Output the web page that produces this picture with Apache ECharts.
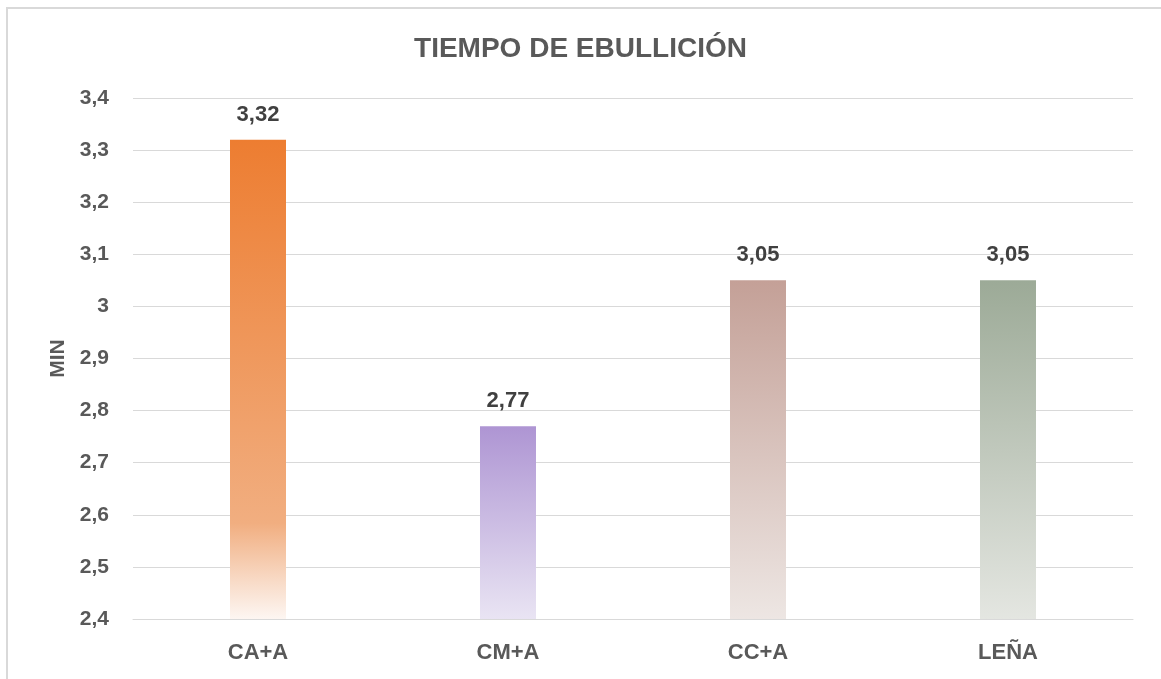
<!DOCTYPE html>
<html>
<head>
<meta charset="utf-8">
<title>Tiempo de ebullición</title>
<script src="https://cdn.jsdelivr.net/npm/echarts@6/dist/echarts.min.js"></script>
<style>
    html, body { margin: 0; padding: 0; background: #fff; }
    #chart { width: 1161px; height: 679px; }
</style>
</head>
<body>
<div id="chart"></div>
<script>
    // datos
    var categorias = ['CA+A', 'CM+A', 'CC+A', 'LEÑA'];
    var valores = [3.32, 2.77, 3.05, 3.05];
    var ejeMin = 2.4, ejeMax = 3.4, ejeIntervalo = 0.1;

    var fuente = "'Liberation Sans', Arial, sans-serif";

    // degradados de cada barra (arriba -> abajo)
    var degradados = [
        [[0, '#ED7D31'], [0.8, '#F1AE80'], [0.92, '#F8DAC6'], [1, '#FDF6F2']],
        [[0, '#AE95D3'], [1, '#E9E4F3']],
        [[0, '#C4A097'], [1, '#EDE6E3']],
        [[0, '#9CAA97'], [1, '#E4E6E1']]
    ];

    function coma(v) {
        return String(v).replace('.', ',');
    }

    var chart = echarts.init(document.getElementById('chart'));

    var datos = valores.map(function (v, i) {
        return {
            value: v,
            itemStyle: {
                color: new echarts.graphic.LinearGradient(0, 0, 0, 1, degradados[i].map(function (s) {
                    return { offset: s[0], color: s[1] };
                }))
            }
        };
    });

    chart.setOption({
        animation: false,
        graphic: [{
            type: 'rect',
            shape: { x: 7, y: 8, width: 1200, height: 700 },
            style: { fill: 'none', stroke: '#d9d9d9', lineWidth: 2 },
            silent: true
        }],
        title: {
            text: 'TIEMPO DE EBULLICIÓN',
            left: 'center',
            top: 30,
            textStyle: {
                fontFamily: fuente,
                fontSize: 28,
                fontWeight: 'bold',
                color: '#595959'
            }
        },
        grid: {
            left: 133,
            right: 28,
            top: 98,
            bottom: 60,
            containLabel: false
        },
        xAxis: {
            type: 'category',
            data: categorias,
            axisLine: { show: true, lineStyle: { color: '#d9d9d9', width: 1 } },
            axisTick: { show: false },
            axisLabel: {
                margin: 23,
                fontFamily: fuente,
                fontSize: 22,
                fontWeight: 'bold',
                color: '#595959'
            }
        },
        yAxis: {
            type: 'value',
            min: ejeMin,
            max: ejeMax,
            interval: ejeIntervalo,
            name: 'MIN',
            nameLocation: 'middle',
            nameGap: 62,
            nameRotate: 90,
            nameTextStyle: {
                fontFamily: fuente,
                fontSize: 21,
                fontWeight: 'bold',
                color: '#595959'
            },
            axisLine: { show: false },
            axisTick: { show: false },
            splitLine: { lineStyle: { color: '#d9d9d9', width: 1 } },
            axisLabel: {
                margin: 24,
                fontFamily: fuente,
                fontSize: 21,
                fontWeight: 'bold',
                color: '#595959',
                formatter: function (v) {
                    return coma(Math.round(v * 10) / 10);
                }
            }
        },
        series: [{
            type: 'bar',
            data: datos,
            barWidth: 56,
            label: {
                show: true,
                position: 'top',
                distance: 14,
                fontFamily: fuente,
                fontSize: 22,
                fontWeight: 'bold',
                color: '#404040',
                formatter: function (p) {
                    return coma(p.value);
                }
            }
        }]
    });
</script>
</body>
</html>
